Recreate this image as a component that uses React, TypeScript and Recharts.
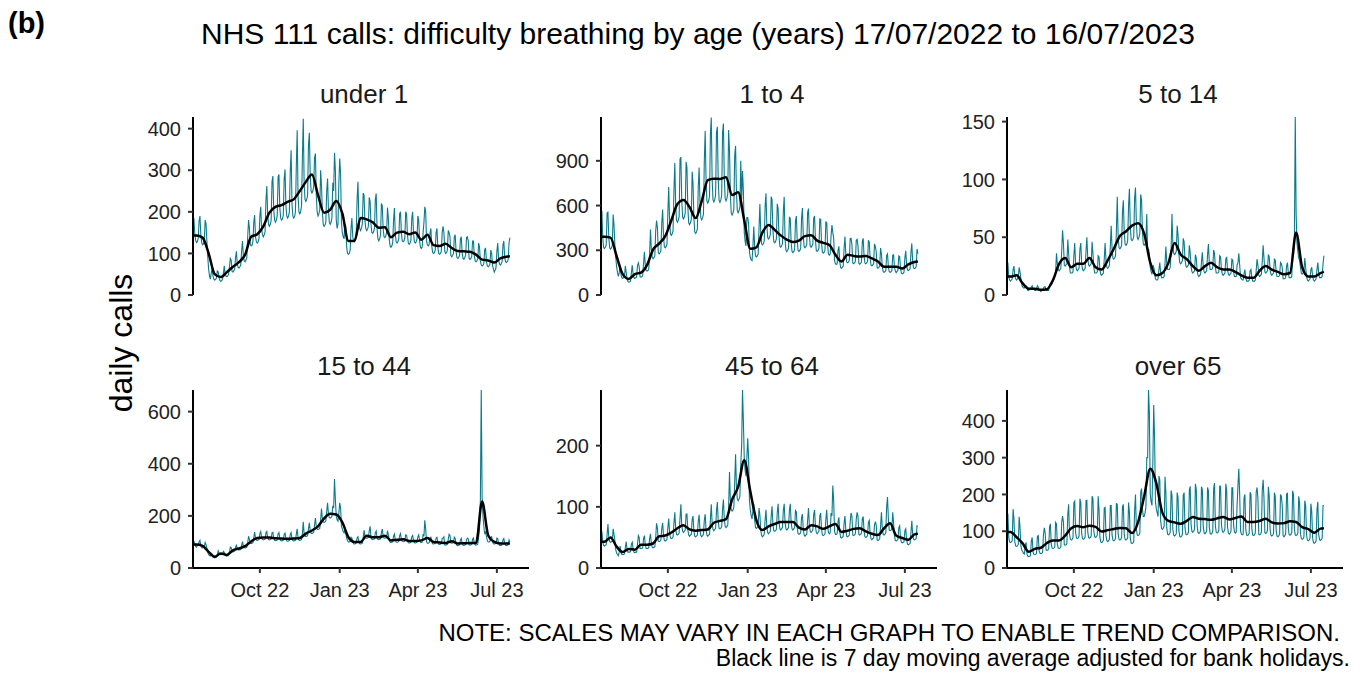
import { Line, LineChart, XAxis, YAxis } from "recharts";

// x = days since 17/07/2022 (day 0 is a Sunday); one row per week, Sun..Sat
const dateTicks = [76, 168, 258, 349];
const dateLabels = ["Oct 22", "Jan 23", "Apr 23", "Jul 23"];

const under1 = [
  185, 150, 132, 126, 128, 136, 178,
  190, 146, 126, 121, 123, 131, 180,
  172, 128, 92, 62, 46, 38, 52,
  64, 46, 38, 36, 37, 41, 58,
  56, 42, 35, 33, 34, 38, 52,
  70, 52, 45, 44, 46, 50, 68,
  88, 84, 56, 55, 58, 62, 90,
  105, 75, 66, 65, 68, 72, 106,
  130, 95, 82, 80, 84, 90, 140,
  180, 160, 122, 118, 120, 128, 175,
  192, 140, 128, 125, 128, 135, 190,
  212, 160, 145, 140, 145, 152, 226,
  262, 195, 170, 165, 170, 180, 272,
  286, 205, 180, 175, 180, 190, 284,
  290, 210, 185, 180, 182, 192, 280,
  302, 215, 190, 185, 190, 200, 298,
  348, 220, 190, 185, 188, 200, 310,
  396, 240, 200, 195, 200, 215, 330,
  424, 270, 230, 225, 230, 240, 360,
  390, 290, 250, 245, 250, 260, 330,
  340, 240, 200, 190, 195, 205, 300,
  262, 200, 170, 165, 168, 175, 250,
  280, 205, 175, 170, 175, 185, 270,
  250, 342, 300, 180, 160, 170, 270,
  328, 290, 175, 150, 140, 135, 170,
  165, 115, 100, 98, 100, 108, 160,
  185, 140, 130, 128, 135, 145, 230,
  272, 185, 160, 155, 160, 170, 245,
  240, 180, 160, 155, 158, 165, 235,
  225, 170, 150, 148, 152, 160, 230,
  244, 160, 135, 130, 135, 145, 220,
  215, 160, 140, 138, 142, 150, 210,
  185, 135, 118, 115, 118, 125, 180,
  209, 145, 128, 125, 128, 135, 195,
  200, 150, 130, 128, 130, 138, 200,
  195, 145, 125, 122, 125, 132, 185,
  200, 148, 128, 125, 128, 135, 190,
  180, 130, 115, 112, 115, 150, 175,
  212, 200, 130, 120, 118, 122, 150,
  160, 118, 102, 100, 102, 108, 150,
  160, 115, 100, 98, 100, 105, 150,
  165, 150, 105, 100, 102, 108, 155,
  150, 140, 95, 92, 95, 100, 140,
  145, 105, 90, 88, 90, 95, 135,
  140, 102, 88, 86, 90, 95, 138,
  140, 130, 88, 85, 88, 92, 130,
  130, 95, 82, 80, 82, 88, 125,
  115, 82, 72, 70, 72, 76, 110,
  112, 80, 70, 68, 70, 74, 108,
  100, 72, 62, 55, 60, 66, 105,
  125, 85, 75, 72, 75, 80, 120,
  130, 90, 80, 78, 80, 85, 125,
  138,
];

const oneToFour = [
  565, 390, 320, 312, 320, 335, 550,
  555, 385, 316, 308, 316, 331, 540,
  470, 330, 250, 190, 150, 125, 150,
  200, 140, 115, 112, 115, 120, 195,
  155, 108, 90, 86, 88, 93, 150,
  200, 140, 115, 112, 115, 120, 195,
  215, 190, 122, 120, 122, 129, 210,
  290, 200, 164, 160, 164, 172, 280,
  440, 305, 250, 244, 250, 262, 430,
  500, 450, 283, 276, 283, 297, 483,
  573, 395, 324, 316, 324, 340, 553,
  725, 500, 410, 400, 410, 430, 700,
  885, 610, 500, 488, 500, 525, 912,
  925, 638, 523, 510, 523, 549, 893,
  855, 590, 484, 472, 484, 507, 826,
  748, 516, 423, 413, 423, 444, 722,
  855, 630, 517, 504, 517, 542, 900,
  1100, 770, 630, 616, 630, 662, 1078,
  1190, 780, 640, 624, 640, 670, 1092,
  1128, 778, 638, 622, 638, 669, 1089,
  1150, 790, 648, 632, 648, 679, 1106,
  972, 670, 549, 536, 549, 576, 938,
  1000, 690, 566, 552, 566, 593, 900,
  640, 832, 700, 420, 360, 330, 520,
  520, 480, 290, 250, 235, 230, 330,
  460, 320, 262, 256, 262, 275, 448,
  610, 420, 344, 336, 344, 361, 590,
  683, 470, 385, 376, 385, 404, 660,
  640, 437, 358, 350, 358, 376, 612,
  580, 400, 328, 320, 328, 344, 560,
  658, 372, 300, 290, 300, 315, 520,
  515, 355, 291, 284, 291, 305, 497,
  530, 365, 299, 292, 299, 314, 511,
  584, 395, 324, 316, 324, 340, 553,
  580, 400, 328, 320, 328, 344, 516,
  530, 365, 299, 292, 299, 314, 511,
  508, 350, 287, 280, 287, 301, 490,
  486, 335, 275, 268, 275, 400, 469,
  420, 380, 230, 210, 205, 210, 300,
  326, 225, 185, 180, 185, 194, 315,
  392, 270, 221, 216, 221, 232, 378,
  380, 340, 215, 210, 215, 225, 367,
  374, 330, 212, 206, 212, 222, 361,
  380, 262, 215, 210, 215, 225, 367,
  355, 245, 201, 196, 201, 211, 343,
  326, 290, 185, 180, 185, 194, 315,
  276, 190, 156, 152, 156, 163, 266,
  276, 190, 156, 152, 156, 163, 266,
  270, 186, 160, 150, 158, 166, 262,
  258, 178, 146, 142, 146, 153, 249,
  297, 205, 168, 164, 168, 176, 287,
  346, 221, 181, 177, 181, 190, 309,
  278,
];

const fiveTo14 = [
  28, 16, 13, 12, 13, 14, 22,
  25, 17, 14, 13, 14, 15, 24,
  20, 14, 9, 7, 6, 6, 8,
  8, 6, 4, 4, 5, 5, 7,
  8, 5, 5, 4, 4, 5, 8,
  7, 4, 4, 3, 4, 4, 6,
  7, 7, 4, 4, 4, 4, 8,
  10, 9, 10, 12, 14, 16, 20,
  36, 27, 22, 21, 22, 23, 38,
  56, 45, 26, 25, 26, 27, 48,
  36, 24, 19, 19, 19, 20, 34,
  45, 27, 22, 21, 22, 23, 40,
  45, 27, 22, 21, 22, 23, 38,
  50, 32, 26, 25, 26, 27, 46,
  36, 24, 19, 19, 19, 20, 34,
  33, 22, 18, 17, 18, 19, 31,
  45, 30, 24, 23, 24, 26, 42,
  60, 40, 32, 31, 32, 34, 56,
  85, 51, 41, 40, 41, 43, 72,
  82, 55, 44, 43, 44, 47, 77,
  92, 60, 48, 47, 48, 51, 84,
  93, 62, 50, 48, 50, 53, 87,
  82, 55, 44, 43, 44, 47, 70,
  36, 40, 35, 24, 20, 18, 26,
  24, 20, 14, 13, 13, 14, 22,
  28, 19, 15, 15, 15, 16, 27,
  42, 28, 22, 22, 22, 24, 39,
  70, 45, 36, 35, 36, 38, 60,
  52, 35, 28, 27, 28, 30, 49,
  46, 31, 25, 24, 25, 26, 43,
  37, 25, 20, 19, 20, 21, 35,
  32, 21, 17, 16, 17, 18, 29,
  37, 25, 20, 19, 20, 21, 35,
  44, 28, 22, 22, 22, 24, 39,
  36, 24, 19, 19, 19, 20, 34,
  33, 22, 18, 17, 18, 19, 31,
  33, 22, 18, 17, 18, 19, 31,
  30, 20, 16, 16, 16, 26, 28,
  36, 26, 15, 14, 13, 13, 18,
  22, 15, 12, 12, 12, 13, 21,
  22, 15, 12, 12, 12, 13, 21,
  31, 26, 17, 16, 17, 18, 29,
  43, 32, 20, 19, 20, 21, 35,
  33, 22, 18, 17, 18, 19, 31,
  30, 20, 16, 16, 16, 17, 28,
  27, 24, 14, 14, 14, 15, 25,
  28, 19, 15, 15, 15, 16, 40,
  35, 45, 155, 71, 45, 38, 32,
  30, 24, 19, 18, 19, 20, 32,
  24, 16, 13, 12, 13, 14, 22,
  24, 16, 13, 12, 13, 14, 22,
  28, 19, 15, 15, 15, 16, 27,
  34,
];

const fifteenTo44 = [
  104, 92, 83, 80, 86, 88, 100,
  106, 86, 78, 77, 79, 81, 98,
  90, 75, 60, 52, 48, 46, 52,
  52, 43, 40, 39, 40, 41, 49,
  66, 56, 52, 51, 52, 53, 64,
  60, 50, 46, 46, 46, 48, 58,
  80, 78, 63, 62, 63, 65, 78,
  90, 75, 70, 69, 70, 71, 86,
  101, 84, 78, 77, 78, 80, 97,
  122, 110, 95, 94, 95, 97, 117,
  138, 115, 107, 106, 107, 109, 132,
  140, 117, 109, 108, 109, 111, 135,
  140, 117, 109, 108, 109, 111, 135,
  137, 114, 106, 105, 106, 108, 131,
  136, 113, 105, 104, 105, 107, 130,
  134, 112, 104, 103, 104, 106, 129,
  136, 113, 105, 104, 105, 107, 130,
  150, 115, 107, 106, 107, 109, 132,
  177, 132, 122, 120, 122, 125, 150,
  173, 144, 134, 132, 134, 137, 166,
  192, 160, 149, 147, 149, 152, 184,
  228, 190, 177, 175, 177, 181, 218,
  250, 208, 193, 191, 193, 198, 239,
  230, 341, 260, 200, 185, 180, 210,
  250, 230, 160, 150, 140, 135, 150,
  135, 115, 105, 100, 100, 102, 118,
  115, 100, 93, 92, 93, 95, 115,
  120, 100, 93, 92, 93, 95, 115,
  145, 124, 115, 114, 115, 118, 143,
  160, 118, 110, 109, 110, 112, 136,
  142, 118, 110, 109, 110, 112, 136,
  149, 124, 115, 114, 115, 118, 143,
  127, 106, 99, 98, 99, 101, 122,
  130, 108, 100, 99, 100, 103, 124,
  132, 110, 102, 101, 102, 105, 127,
  125, 104, 97, 96, 97, 99, 120,
  125, 104, 97, 96, 97, 99, 120,
  127, 106, 99, 98, 99, 130, 122,
  183, 150, 100, 95, 95, 97, 110,
  120, 100, 93, 92, 93, 95, 115,
  118, 98, 91, 90, 91, 93, 113,
  115, 120, 89, 88, 89, 91, 110,
  129, 125, 96, 95, 96, 98, 118,
  113, 94, 87, 86, 87, 89, 108,
  114, 95, 88, 87, 88, 90, 109,
  115, 112, 89, 88, 89, 91, 110,
  115, 96, 89, 88, 89, 91, 120,
  150, 260, 683, 271, 200, 160, 130,
  140, 120, 105, 100, 100, 102, 118,
  120, 100, 93, 92, 93, 95, 115,
  113, 94, 87, 86, 87, 89, 108,
  113, 94, 87, 86, 87, 89, 108,
  100,
];

const fortyFiveTo64 = [
  60, 43, 37, 36, 37, 38, 54,
  72, 50, 43, 42, 43, 44, 64,
  55, 45, 30, 24, 22, 20, 26,
  36, 26, 22, 22, 22, 23, 33,
  43, 31, 26, 26, 26, 27, 39,
  42, 30, 26, 25, 26, 26, 38,
  53, 50, 32, 32, 32, 33, 48,
  53, 38, 32, 32, 32, 33, 48,
  56, 40, 34, 33, 34, 35, 50,
  73, 65, 44, 43, 44, 46, 65,
  74, 53, 45, 44, 45, 47, 66,
  81, 58, 49, 48, 49, 51, 73,
  91, 65, 55, 54, 55, 57, 81,
  104, 70, 60, 58, 60, 62, 88,
  88, 63, 54, 52, 54, 55, 79,
  85, 61, 52, 51, 52, 54, 76,
  87, 62, 53, 51, 53, 55, 78,
  88, 63, 54, 52, 54, 55, 79,
  104, 74, 63, 61, 63, 65, 93,
  108, 77, 65, 64, 65, 68, 96,
  112, 80, 68, 66, 68, 70, 100,
  157, 112, 95, 93, 95, 99, 140,
  186, 133, 113, 110, 113, 117, 170,
  200, 291, 240, 180, 160, 150, 180,
  212, 180, 110, 95, 85, 80, 95,
  105, 78, 66, 65, 66, 69, 98,
  87, 62, 53, 51, 53, 55, 78,
  95, 68, 58, 56, 58, 60, 85,
  101, 72, 61, 60, 61, 63, 90,
  105, 75, 64, 62, 64, 66, 94,
  105, 75, 64, 62, 64, 66, 94,
  105, 75, 64, 62, 64, 66, 94,
  92, 66, 56, 55, 56, 58, 83,
  88, 63, 54, 52, 54, 55, 79,
  98, 70, 60, 58, 60, 62, 88,
  95, 68, 58, 56, 58, 60, 85,
  90, 64, 54, 53, 54, 56, 80,
  95, 68, 58, 56, 58, 90, 85,
  135, 110, 60, 55, 55, 56, 75,
  83, 59, 50, 49, 50, 52, 74,
  85, 61, 52, 51, 52, 54, 76,
  90, 85, 54, 53, 54, 56, 80,
  91, 85, 55, 54, 55, 57, 81,
  84, 60, 51, 50, 51, 53, 75,
  78, 56, 48, 46, 48, 49, 70,
  76, 70, 46, 45, 46, 48, 68,
  91, 65, 55, 54, 55, 57, 100,
  116, 80, 62, 61, 62, 64, 91,
  74, 53, 45, 44, 45, 47, 66,
  69, 49, 42, 41, 42, 43, 61,
  64, 46, 39, 38, 39, 40, 58,
  77, 55, 47, 46, 47, 48, 69,
  68,
];

const over65 = [
  148, 83, 71, 69, 71, 74, 160,
  134, 71, 60, 59, 60, 64, 139,
  110, 60, 48, 45, 40, 38, 60,
  70, 37, 32, 31, 32, 33, 73,
  83, 44, 37, 36, 37, 40, 86,
  88, 47, 40, 39, 40, 42, 91,
  109, 95, 49, 48, 49, 52, 112,
  120, 64, 54, 53, 54, 57, 124,
  120, 64, 54, 53, 54, 57, 124,
  141, 125, 63, 62, 63, 67, 145,
  173, 92, 78, 76, 78, 82, 178,
  182, 97, 82, 80, 82, 87, 188,
  178, 94, 80, 78, 80, 84, 183,
  184, 98, 83, 81, 83, 87, 195,
  189, 100, 85, 83, 85, 90, 195,
  158, 84, 71, 69, 71, 75, 163,
  165, 88, 74, 72, 74, 78, 170,
  170, 90, 76, 74, 76, 81, 175,
  174, 93, 78, 76, 78, 83, 167,
  173, 92, 78, 76, 78, 82, 178,
  152, 81, 68, 67, 68, 72, 157,
  200, 106, 90, 88, 90, 95, 206,
  216, 160, 140, 140, 150, 165, 300,
  300, 484, 420, 200, 180, 170, 290,
  443, 350, 180, 160, 150, 140, 250,
  240, 128, 108, 105, 108, 114, 248,
  205, 109, 92, 90, 92, 97, 211,
  198, 105, 89, 87, 89, 94, 205,
  192, 102, 86, 84, 86, 91, 198,
  205, 109, 92, 90, 92, 97, 211,
  222, 118, 100, 97, 100, 106, 229,
  214, 114, 96, 94, 96, 102, 221,
  213, 113, 96, 93, 96, 101, 219,
  210, 111, 94, 92, 94, 100, 216,
  231, 115, 97, 95, 97, 103, 223,
  222, 118, 100, 97, 100, 106, 229,
  211, 112, 95, 92, 95, 100, 218,
  218, 116, 98, 95, 98, 170, 224,
  270, 200, 100, 92, 90, 92, 190,
  200, 106, 90, 88, 90, 95, 206,
  200, 106, 90, 88, 90, 95, 206,
  219, 190, 92, 90, 92, 97, 211,
  240, 190, 96, 94, 96, 102, 221,
  198, 105, 89, 87, 89, 94, 205,
  194, 103, 87, 85, 87, 92, 200,
  195, 170, 88, 85, 88, 93, 201,
  203, 108, 91, 89, 91, 97, 210,
  200, 106, 90, 88, 90, 95, 195,
  178, 94, 80, 78, 80, 84, 183,
  170, 90, 76, 74, 76, 81, 175,
  154, 82, 69, 67, 69, 73, 158,
  180, 91, 77, 75, 77, 81, 170,
  170,
];

// 7 day moving average: day 0, mid-week of each week, last day
const maDays = [0, ...Array.from({ length: 52 }, (_, k) => 7 * k + 3), 364];

const maUnder1 = [143, 143, 138, 100, 50, 43, 55, 68, 79, 97, 140, 146, 165, 198, 212, 216, 224, 230, 250, 272, 290, 240, 198, 205, 226, 196, 130, 130, 185, 182, 175, 162, 163, 139, 150, 152, 146, 150, 133, 145, 120, 118, 123, 113, 106, 105, 104, 97, 85, 83, 78, 88, 92, 93];
const maOneToFour = [390, 390, 385, 260, 140, 108, 140, 150, 200, 305, 345, 395, 500, 610, 638, 590, 516, 630, 770, 780, 778, 790, 670, 690, 500, 310, 320, 420, 470, 437, 400, 372, 355, 365, 395, 400, 365, 350, 335, 270, 225, 270, 262, 258, 262, 245, 225, 190, 190, 190, 178, 205, 221, 225];
const maFiveTo14 = [16, 16, 17, 10, 5.5, 5.5, 4.5, 5, 13, 27, 32, 24, 27, 27, 32, 24, 22, 30, 40, 51, 55, 60, 62, 53, 28, 17, 19, 28, 45, 35, 31, 25, 21, 25, 28, 24, 22, 22, 20, 17, 15, 15, 21, 25, 22, 20, 18, 19, 54, 24, 16, 16, 19, 20];
const maFifteenTo44 = [90, 90, 85, 62, 43, 56, 50, 68, 75, 84, 102, 115, 117, 117, 114, 113, 112, 113, 115, 132, 144, 160, 190, 208, 205, 175, 118, 100, 100, 124, 118, 118, 124, 106, 108, 110, 104, 104, 106, 115, 100, 98, 96, 103, 94, 95, 96, 96, 255, 125, 100, 94, 94, 94];
const maFortyFiveTo64 = [43, 43, 50, 35, 26, 31, 30, 38, 38, 40, 52, 53, 58, 65, 70, 63, 61, 62, 63, 74, 77, 80, 112, 133, 176, 125, 78, 62, 68, 72, 75, 75, 75, 66, 63, 70, 68, 64, 68, 72, 59, 61, 64, 65, 60, 56, 54, 65, 73, 53, 49, 46, 55, 56];
const maOver65 = [98, 98, 84, 67, 44, 52, 55, 68, 75, 75, 88, 108, 114, 111, 115, 112, 99, 103, 106, 109, 108, 95, 125, 195, 270, 230, 150, 128, 124, 120, 128, 139, 134, 133, 131, 135, 139, 132, 136, 140, 125, 125, 128, 134, 124, 121, 122, 127, 125, 111, 106, 96, 107, 108];

const panelTitles = ["under 1", "1 to 4", "5 to 14", "15 to 44", "45 to 64", "over 65"];
const dailySeries = [under1, oneToFour, fiveTo14, fifteenTo44, fortyFiveTo64, over65];
const maSeries = [maUnder1, maOneToFour, maFiveTo14, maFifteenTo44, maFortyFiveTo64, maOver65];
const yTops = [428, 1194, 154, 683, 291, 484];
const yTicks = [
  [0, 100, 200, 300, 400],
  [0, 300, 600, 900],
  [0, 50, 100, 150],
  [0, 200, 400, 600],
  [0, 100, 200],
  [0, 100, 200, 300, 400],
];

const TEAL = "#0b7b8c";
const FONT = "'Liberation Sans', Arial, sans-serif";
const PLOT_W = 336;
const PLOT_H = 178;
const AXIS_W = 80;
const COL_LEFT = [193, 601, 1007];
const ROW_TOP = [117, 390];

function Panel({ i }: { i: number }) {
  const col = i % 3;
  const row = Math.floor(i / 3);
  const bottom = row === 1;
  const daily = dailySeries[i].map((v, d) => ({ day: d, calls: v }));
  const ma = maDays.map((d, k) => ({ day: d, avg: maSeries[i][k] }));
  const width = AXIS_W + PLOT_W + 10;
  const height = 5 + PLOT_H + (bottom ? 45 : 18);
  return (
    <div style={{ position: "absolute", left: COL_LEFT[col] - AXIS_W, top: ROW_TOP[row] - 5 }}>
      <LineChart width={width} height={height} margin={{ top: 5, right: 10, bottom: bottom ? 0 : 18, left: 0 }}>
        <XAxis
          type="number"
          dataKey="day"
          domain={[-1, 386]}
          ticks={dateTicks}
          interval={0}
          allowDataOverflow
          hide={!bottom}
          height={45}
          tickFormatter={(v) => dateLabels[dateTicks.indexOf(v)]}
          axisLine={{ stroke: "#000", strokeWidth: 2 }}
          tickLine={{ stroke: "#333", strokeWidth: 2 }}
          tickSize={5}
          tickMargin={10}
          tick={{ fill: "#222", fontSize: 20 }}
        />
        <YAxis
          type="number"
          domain={[0, yTops[i]]}
          ticks={yTicks[i]}
          interval={0}
          allowDataOverflow
          width={AXIS_W}
          axisLine={{ stroke: "#000", strokeWidth: 2 }}
          tickLine={{ stroke: "#333", strokeWidth: 2 }}
          tickSize={5}
          tickMargin={7}
          tick={{ fill: "#222", fontSize: 20 }}
        />
        <Line data={daily} dataKey="calls" stroke={TEAL} strokeWidth={1.1} dot={false} isAnimationActive={false} />
        <Line data={ma} dataKey="avg" type="monotone" stroke="#000" strokeWidth={2.5} dot={false} isAnimationActive={false} />
      </LineChart>
    </div>
  );
}

export default function App() {
  return (
    <div style={{ position: "absolute", left: 0, top: 0, width: 1362, height: 675, background: "#fff", fontFamily: FONT }}>
      {panelTitles.map((_, i) => (
        <Panel key={i} i={i} />
      ))}
      <svg width={1362} height={675} style={{ position: "absolute", left: 0, top: 0, pointerEvents: "none" }} fontFamily={FONT}>
        <text x={8} y={33} fontSize={29} fontWeight="bold" fill="#000">(b)</text>
        <text x={698} y={44} fontSize={30} textAnchor="middle" fill="#000">
          NHS 111 calls: difficulty breathing by age (years) 17/07/2022 to 16/07/2023
        </text>
        {panelTitles.map((t, i) => (
          <text key={t} x={COL_LEFT[i % 3] + PLOT_W / 2 + 3} y={i < 3 ? 103 : 375} fontSize={26} textAnchor="middle" fill="#1a1a1a">
            {t}
          </text>
        ))}
        <text x={132} y={343} fontSize={32} textAnchor="middle" fill="#000" transform="rotate(-90 132 343)">
          daily calls
        </text>
        <text x={1340} y={641} fontSize={24} textAnchor="end" fill="#000">
          NOTE: SCALES MAY VARY IN EACH GRAPH TO ENABLE TREND COMPARISON.
        </text>
        <text x={1350} y={666} fontSize={23} textAnchor="end" fill="#000">
          Black line is 7 day moving average adjusted for bank holidays.
        </text>
      </svg>
    </div>
  );
}
